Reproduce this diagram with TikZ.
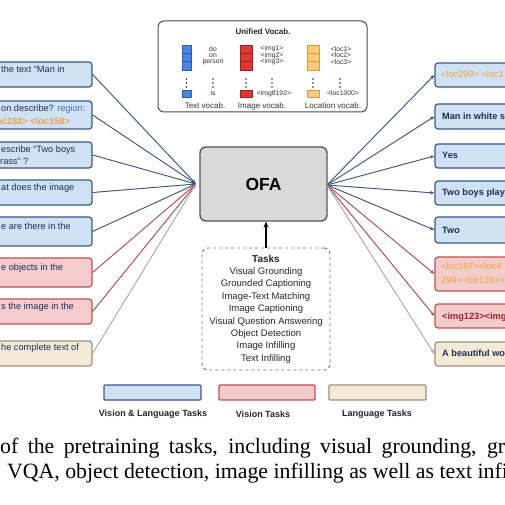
\documentclass[tikz,border=0pt]{standalone}
\usepackage{fontspec}
\setmainfont{Liberation Sans}
\newfontfamily\capfont{Liberation Serif}
\usetikzlibrary{arrows.meta}
\definecolor{bfill}{HTML}{CFE2F3}
\definecolor{bdraw}{HTML}{3A5A8A}
\definecolor{rfill}{HTML}{F4CCCC}
\definecolor{rdraw}{HTML}{B85450}
\definecolor{yfill}{HTML}{F5EAD6}
\definecolor{ydraw}{HTML}{9A9080}
\definecolor{navy}{HTML}{1C2E5A}
\definecolor{regblue}{HTML}{4A6FB0}
\definecolor{orangetxt}{HTML}{F0A23A}
\definecolor{redtxt}{HTML}{A01F2A}
\definecolor{lblue}{HTML}{3D5580}
\definecolor{lred}{HTML}{B04A4A}
\definecolor{lgray}{HTML}{A8A8A8}
\definecolor{vblue}{HTML}{4A86E8}
\definecolor{vbluedk}{HTML}{2A5DB0}
\definecolor{vred}{HTML}{E0392E}
\definecolor{vreddk}{HTML}{A02020}
\definecolor{vorange}{HTML}{F9CB7A}
\definecolor{vorangedk}{HTML}{D69A3A}
\begin{document}
\begin{tikzpicture}[x=1pt,y=-1pt,
  basebox/.style={rounded corners=3pt, line width=1.2pt, inner sep=0pt, minimum width=130pt},
  vlbox/.style={basebox, draw=bdraw, fill=bfill},
  vbox/.style={basebox, draw=rdraw, fill=rfill},
  lgbox/.style={basebox, draw=ydraw, fill=yfill},
  lt/.style={anchor=west, inner sep=0pt, font=\fontsize{9.2}{11}\selectfont, text=navy, text height=6.6pt, text depth=1.9pt},
  rt/.style={lt, font=\fontsize{9.2}{11}\selectfont\bfseries},
  conn/.style={line width=0.9pt},
  tip/.style={-{Stealth[length=4.5pt,width=3.5pt]}},
  vw/.style={inner sep=0pt, font=\fontsize{6.8}{7}\selectfont, text=black!80},
  vl/.style={inner sep=0pt, font=\fontsize{8}{9}\selectfont, text=black!80},
  legtxt/.style={inner sep=0pt, font=\fontsize{9}{10}\selectfont\bfseries, text=black!85},
  capt/.style={inner sep=0pt, anchor=base west, font=\capfont\fontsize{21.8}{26}\selectfont}
]
\useasboundingbox (0,0) rectangle (505,505);
\clip (0,0) rectangle (505,505);
\fill[white] (0,0) rectangle (505,505);

% ---------- left question boxes ----------
\node[vlbox, minimum height=25pt] (L1) at (27,74.5) {};
\node[vlbox, minimum height=28pt] (L2) at (27,115) {};
\node[vlbox, minimum height=26pt] (L3) at (27,155) {};
\node[vlbox, minimum height=25pt] (L4) at (27,192.5) {};
\node[vlbox, minimum height=29pt] (L5) at (27,231.5) {};
\node[vbox, minimum height=29pt] (L6) at (27,272.5) {};
\node[vbox, minimum height=25pt] (L7) at (27,311.5) {};
\node[lgbox, minimum height=25pt] (L8) at (27,353.5) {};

\node[lt] (LT1) at (1,70) {the text “Man in};
\node[lt] (LT2) at (1,109) {on describe? \textcolor{regblue}{region:}};
\node[lt, anchor=east, text=orangetxt, font=\fontsize{9.2}{11}\selectfont\bfseries] (LT2b) at (70,122) {<loc282> <loc158>};
\node[lt] (LT3) at (1,150) {escribe “Two boys};
\node[lt] (LT3b) at (0,162) {rass” ?};
\node[lt] (LT4) at (1,188) {at does the image};
\node[lt] (LT5) at (1,227) {e are there in the};
\node[lt] (LT6) at (1,268) {e objects in the};
\node[lt] (LT7) at (1,307) {s the image in the};
\node[lt] (LT8) at (1,348) {he complete text of};

% ---------- right answer boxes ----------
\node[vlbox, minimum height=24pt] (R1) at (500,75) {};
\node[vlbox, minimum height=25pt] (R2) at (500,116.5) {};
\node[vlbox, minimum height=24pt] (R3) at (500,156) {};
\node[vlbox, minimum height=24pt] (R4) at (500,193) {};
\node[vlbox, minimum height=26pt] (R5) at (500,230) {};
\node[vbox, minimum height=34pt] (R6) at (500,274) {};
\node[vbox, minimum height=24pt] (R7) at (500,316) {};
\node[lgbox, minimum height=24pt] (R8) at (500,354) {};

\node[lt, text=orangetxt] (RT1) at (441,75) {<loc299> <loc1};
\node[rt] (RT2) at (442,117) {Man in white s};
\node[rt] (RT3) at (442,156) {Yes};
\node[rt] (RT4) at (442,193) {Two boys playi};
\node[rt] (RT5) at (442,231) {Two};
\node[lt, text=orangetxt] (RT6) at (441,267) {<loc187><loc4};
\node[lt, text=orangetxt] (RT6b) at (441,281) {299><loc126><};
\node[rt, text=redtxt] (RT7) at (442,317) {<img123><img};
\node[rt] (RT8) at (442,354) {A beautiful wo};

% ---------- OFA ----------
\node[draw=black!65, fill=black!15, line width=1.4pt, rounded corners=6pt,
      minimum width=127pt, minimum height=74pt, inner sep=0pt,
      font=\fontsize{17.5}{20}\selectfont\bfseries] (OFA) at (263.5,184) {OFA};
\coordinate (CL) at (196,184);
\coordinate (CR) at (327,185);

% connectors
\foreach \i/\c in {1/lblue,2/lblue,3/lblue,4/lblue,5/lblue,6/lred,7/lred,8/lgray}{
  \draw[conn, tip, draw=\c, fill=\c] (L\i.east) -- (CL);
  \draw[conn, tip, draw=\c, fill=\c] (CR) -- (R\i.west);
}

% ---------- Tasks ----------
\node[draw=black!55, dashed, line width=0.9pt, rounded corners=6pt,
      minimum width=128pt, minimum height=122pt, inner sep=0pt, align=center,
      font=\fontsize{9.5}{12.4}\selectfont, text=black!85] (T) at (266,309)
  {{\fontsize{10}{12.4}\selectfont\bfseries Tasks}\\Visual Grounding\\Grounded Captioning\\Image-Text Matching\\Image Captioning\\Visual Question Answering\\Object Detection\\Image Infilling\\Text Infilling};
\draw[line width=1.4pt, -{Stealth[length=6pt,width=5pt]}] (T.north) -- (T.north |- OFA.south);

% ---------- Unified vocab ----------
\node[draw=black!70, line width=1pt, rounded corners=6pt, minimum width=209pt,
      minimum height=91pt, inner sep=0pt] (V) at (262.5,66.5) {};
\node[inner sep=0pt, font=\fontsize{8}{9}\selectfont\bfseries, text=black!85] (VT) at (263,32) {Unified Vocab.};
% text vocab
\foreach \k in {0,1,2}{\draw[fill=vblue, draw=vbluedk, line width=0.6pt] (182,45+\k*8.3) rectangle (191,45+\k*8.3+8.3);}
\draw[fill=vblue, draw=vbluedk, line width=0.6pt] (182,90) rectangle (191,97);
% image vocab
\foreach \k in {0,1,2}{\draw[fill=vred, draw=vreddk, line width=0.6pt] (240,45+\k*8.3) rectangle (252,45+\k*8.3+8.3);}
\draw[fill=vred, draw=vreddk, line width=0.6pt] (240,90) rectangle (252,97);
% location vocab
\foreach \k in {0,1,2}{\draw[fill=vorange, draw=vorangedk, line width=0.6pt] (307,45+\k*8.3) rectangle (319,45+\k*8.3+8.3);}
\draw[fill=vorange, draw=vorangedk, line width=0.6pt] (307,90) rectangle (319,97);
% dots
\foreach \x in {186.5,213,246,272,313,340}{
  \foreach \y in {79,83,87}{\fill[black!85] (\x,\y) circle (0.85pt);}
}
\node[vw] (w1) at (213,49) {do};
\node[vw] (w2) at (213,55.5) {on};
\node[vw] (w3) at (213,62) {person};
\node[vw] (w4) at (213,93.5) {is};
\node[vw] (i1) at (272,49) {<img1>};
\node[vw] (i2) at (272,55.5) {<img2>};
\node[vw] (i3) at (272,62) {<img3>};
\node[vw] (i4) at (274,93.5) {<img8192>};
\node[vw] (c1) at (341,49) {<loc1>};
\node[vw] (c2) at (341,55.5) {<loc2>};
\node[vw] (c3) at (341,62) {<loc3>};
\node[vw] (c4) at (343,93.5) {<loc1000>};
\node[vl] (vl1) at (205,106) {Text vocab.};
\node[vl] (vl2) at (262,106) {Image vocab.};
\node[vl] (vl3) at (333,106) {Location vocab.};

% ---------- legend ----------
\node[draw=bdraw, fill=bfill, line width=1.2pt, minimum width=97pt, minimum height=15pt, inner sep=0pt, rounded corners=1pt] (G1) at (152.5,392.5) {};
\node[draw=rdraw, fill=rfill, line width=1.2pt, minimum width=96pt, minimum height=15pt, inner sep=0pt, rounded corners=1pt] (G2) at (267,392.5) {};
\node[draw=ydraw, fill=yfill, line width=1.2pt, minimum width=97pt, minimum height=15pt, inner sep=0pt, rounded corners=1pt] (G3) at (377.5,392.5) {};
\node[legtxt] (GT1) at (153,414) {Vision \& Language Tasks};
\node[legtxt] (GT2) at (263,414) {Vision Tasks};
\node[legtxt] (GT3) at (377,414) {Language Tasks};

% ---------- caption ----------
\node[capt] (C1) at (0,453) {\makebox[505pt][s]{of the pretraining tasks, including visual grounding, gr}};
\node[capt] (C2) at (7,478) {VQA, object detection, image infilling as well as text infi};
\end{tikzpicture}
\end{document}
